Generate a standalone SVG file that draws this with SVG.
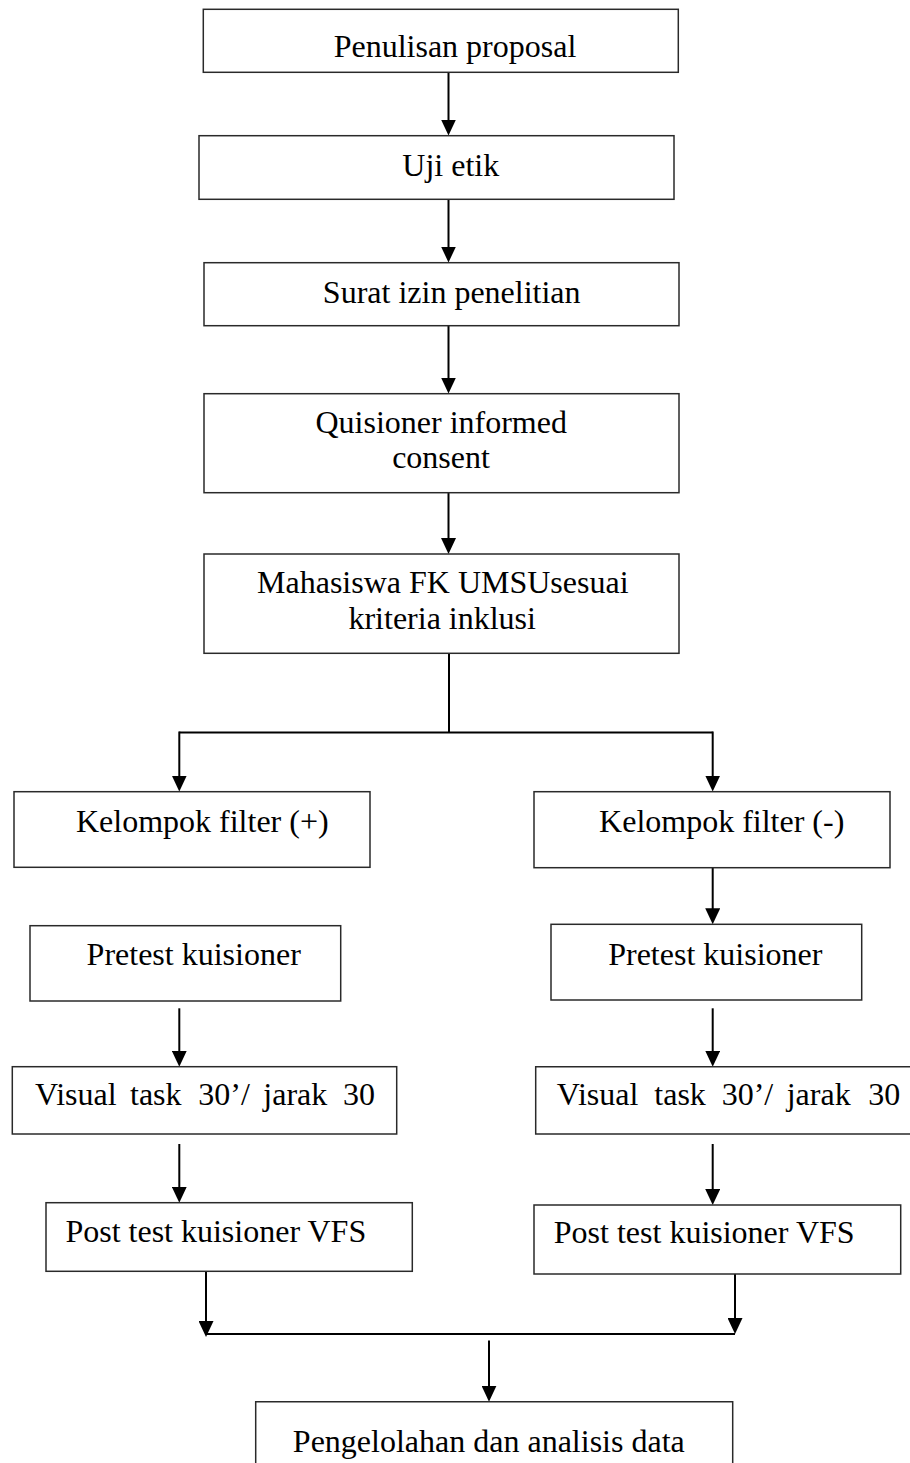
<svg xmlns="http://www.w3.org/2000/svg" width="910" height="1463" viewBox="0 0 910 1463">
  <style>
    .box { fill: #ffffff; stroke: #2a2a2a; stroke-width: 1.5; }
    .lbl { font-family: "Liberation Serif", "Times New Roman", serif; font-size: 32px; fill: #000000; }
    .mid { text-anchor: middle; }
    .con { fill: none; stroke: #000000; stroke-width: 2; }
  </style>
  <defs>
    <marker id="arr" markerUnits="userSpaceOnUse" viewBox="0 -7.5 16 15" refX="8" refY="0" markerWidth="16" markerHeight="15" orient="auto">
      <path d="M0,-7.5 L16,0 L0,7.5 Z" fill="#000000"/>
    </marker>
  </defs>
  <rect width="910" height="1463" fill="#ffffff"/>

  <g id="connectors">
    <line class="con" x1="448.5" y1="72.5" x2="448.5" y2="127.5" marker-end="url(#arr)"/>
    <line class="con" x1="448.5" y1="199.5" x2="448.5" y2="254.5" marker-end="url(#arr)"/>
    <line class="con" x1="448.5" y1="325.5" x2="448.5" y2="385.5" marker-end="url(#arr)"/>
    <line class="con" x1="448.5" y1="492.5" x2="448.5" y2="546" marker-end="url(#arr)"/>
    <polyline class="con" points="449,653.5 449,732.5"/>
    <polyline class="con" points="179.3,732.5 712.7,732.5"/>
    <line class="con" x1="179.3" y1="731.5" x2="179.3" y2="783.5" marker-end="url(#arr)"/>
    <line class="con" x1="712.7" y1="731.5" x2="712.7" y2="783.5" marker-end="url(#arr)"/>
    <line class="con" x1="712.7" y1="867.7" x2="712.7" y2="916.3" marker-end="url(#arr)"/>
    <line class="con" x1="179.3" y1="1008.3" x2="179.3" y2="1058.7" marker-end="url(#arr)"/>
    <line class="con" x1="712.7" y1="1008.3" x2="712.7" y2="1058.7" marker-end="url(#arr)"/>
    <line class="con" x1="179.3" y1="1144" x2="179.3" y2="1194.7" marker-end="url(#arr)"/>
    <line class="con" x1="712.7" y1="1144" x2="712.7" y2="1197" marker-end="url(#arr)"/>
    <line class="con" x1="206" y1="1271.5" x2="206" y2="1329" marker-end="url(#arr)"/>
    <line class="con" x1="735" y1="1269" x2="735" y2="1326" marker-end="url(#arr)"/>
    <polyline class="con" points="206,1334 735,1334"/>
    <line class="con" x1="489" y1="1340.5" x2="489" y2="1393.7" marker-end="url(#arr)"/>
  </g>

  <g id="n-penulisan">
    <rect class="box" x="203.3" y="9.3" width="475" height="63"/>
    <text class="lbl mid" x="455" y="57">Penulisan proposal</text>
  </g>
  <g id="n-ujietik">
    <rect class="box" x="199" y="135.7" width="475" height="63.6"/>
    <text class="lbl mid" x="450.8" y="175.7">Uji etik</text>
  </g>
  <g id="n-surat">
    <rect class="box" x="204" y="262.7" width="475" height="63"/>
    <text class="lbl mid" x="451.7" y="303.3">Surat izin penelitian</text>
  </g>
  <g id="n-quisioner">
    <rect class="box" x="204" y="393.7" width="475" height="99"/>
    <text class="lbl mid" x="441.2" y="432.7">Quisioner informed</text>
    <text class="lbl mid" x="441" y="468.3">consent</text>
  </g>
  <g id="n-mahasiswa">
    <rect class="box" x="204" y="554" width="475" height="99.3"/>
    <text class="lbl mid" x="442.8" y="593.3">Mahasiswa FK UMSUsesuai</text>
    <text class="lbl mid" x="442.2" y="629.3">kriteria inklusi</text>
  </g>
  <g id="n-filter-plus">
    <rect class="box" x="14" y="791.7" width="356" height="75.6"/>
    <text class="lbl mid" x="202.3" y="831.7">Kelompok filter (+)</text>
  </g>
  <g id="n-filter-minus">
    <rect class="box" x="534" y="791.7" width="356" height="76"/>
    <text class="lbl mid" x="721.7" y="831.7">Kelompok filter (-)</text>
  </g>
  <g id="n-pretest-left">
    <rect class="box" x="30" y="925.7" width="310.7" height="75.3"/>
    <text class="lbl mid" x="193.7" y="965">Pretest kuisioner</text>
  </g>
  <g id="n-pretest-right">
    <rect class="box" x="551" y="924.3" width="310.7" height="75.7"/>
    <text class="lbl mid" x="715.3" y="965">Pretest kuisioner</text>
  </g>
  <g id="n-visual-left">
    <rect class="box" x="12.3" y="1066.7" width="384.4" height="67.3"/>
    <text class="lbl" y="1105"><tspan x="35">Visual</tspan><tspan x="130">task</tspan><tspan x="198.3">30’/</tspan><tspan x="263.3">jarak</tspan><tspan x="343">30</tspan></text>
  </g>
  <g id="n-visual-right">
    <path class="box" d="M912,1066.7 H535.7 V1134 H912"/>
    <text class="lbl" y="1105"><tspan x="556.7">Visual</tspan><tspan x="654.3">task</tspan><tspan x="721.7">30’/</tspan><tspan x="786.7">jarak</tspan><tspan x="868.3">30</tspan></text>
  </g>
  <g id="n-post-left">
    <rect class="box" x="46" y="1202.7" width="366.3" height="68.6"/>
    <text class="lbl mid" x="215.8" y="1241.7">Post test kuisioner VFS</text>
  </g>
  <g id="n-post-right">
    <rect class="box" x="534" y="1205" width="366.7" height="69"/>
    <text class="lbl mid" x="704.2" y="1243.3">Post test kuisioner VFS</text>
  </g>
  <g id="n-pengelolahan">
    <path class="box" d="M255.7,1466 V1401.7 H732.7 V1466"/>
    <text class="lbl mid" x="488.8" y="1451.7">Pengelolahan dan analisis data</text>
  </g>
</svg>
